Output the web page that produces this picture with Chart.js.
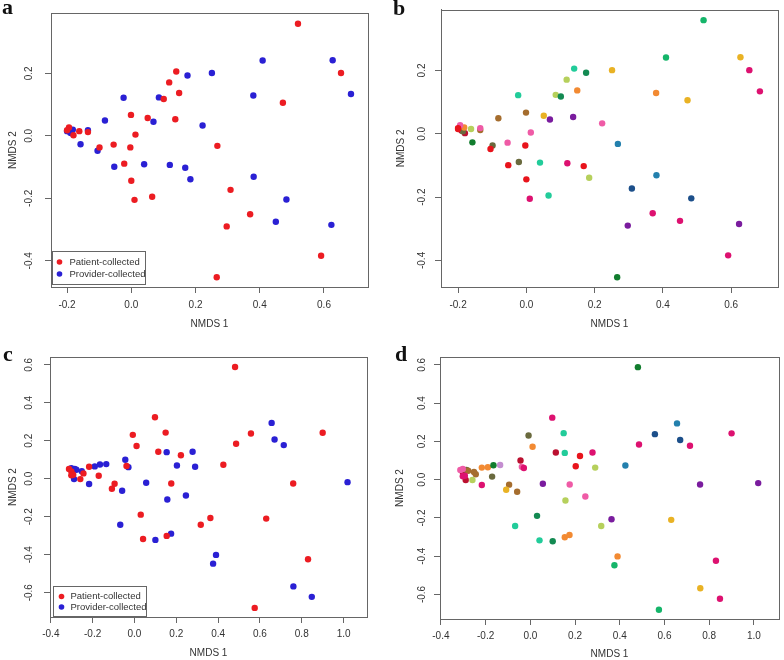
<!DOCTYPE html>
<html>
<head>
<meta charset="utf-8">
<script src="https://cdn.jsdelivr.net/npm/chart.js@4.4.1/dist/chart.umd.min.js"></script>
<style>
  body { margin: 0; background: #fff; }
  #wrap { position: relative; width: 784px; height: 660px; overflow: hidden; }
  canvas { position: absolute; }
  .tag { position: absolute; font: bold 22px "Liberation Serif", "Times New Roman", serif; color: #111; line-height: 1; }
</style>
</head>
<body>
<div id="wrap">
  <canvas id="chartA" width="392" height="330" style="left:0;top:0"></canvas>
  <canvas id="chartB" width="392" height="330" style="left:392px;top:0"></canvas>
  <canvas id="chartC" width="392" height="330" style="left:0;top:330px"></canvas>
  <canvas id="chartD" width="392" height="330" style="left:392px;top:330px"></canvas>
  <div class="tag" style="left:2px;top:-4px">a</div>
  <div class="tag" style="left:393px;top:-3px">b</div>
  <div class="tag" style="left:3px;top:343px">c</div>
  <div class="tag" style="left:395px;top:343px">d</div>
</div>
<script>
// ordination 1 (panels a, b)
const abPatientX = [0.519, 0.653, 0.472, 0.140, 0.118, 0.149, 0.101, -0.001, 0.051, 0.137, 0.013, 0.268, -0.055, -0.099, -0.003, -0.022, 0.000, 0.065, 0.010, 0.309, 0.370, 0.297, 0.591, 0.266, -0.194, -0.180, -0.162, -0.135, -0.200];
const abPatientY = [0.359, 0.201, 0.106, 0.206, 0.171, 0.137, 0.118, 0.067, 0.057, 0.053, 0.004, -0.032, -0.028, -0.037, -0.037, -0.089, -0.144, -0.195, -0.205, -0.173, -0.251, -0.290, -0.384, -0.453, 0.027, 0.002, 0.015, 0.012, 0.018];
const abPatientSubject = [7, 1, 11, 6, 10, 12, 8, 13, 11, 3, 2, 5, 2, 14, 0, 14, 0, 6, 1, 4, 1, 3, 1, 9, 2, 15, 10, 13, 0];

const abProviderX = [0.409, 0.627, 0.684, 0.251, 0.175, 0.380, 0.086, -0.024, -0.082, 0.069, 0.222, -0.135, -0.158, -0.105, -0.053, 0.040, 0.120, 0.168, 0.184, 0.381, 0.483, 0.450, 0.623, -0.200, -0.190, -0.182, -0.186];
const abProviderY = [0.241, 0.242, 0.134, 0.201, 0.193, 0.129, 0.123, 0.122, 0.049, 0.045, 0.033, 0.018, -0.027, -0.048, -0.099, -0.091, -0.093, -0.102, -0.139, -0.131, -0.204, -0.275, -0.285, 0.015, 0.010, 0.020, 0.008];
const abProviderSubject = [7, 11, 1, 11, 8, 12, 10, 6, 13, 3, 2, 2, 9, 0, 0, 6, 1, 0, 10, 5, 4, 1, 3, 0, 15, 12, 14];

// ordination 2 (panels c, d)
const cdPatientX = [0.481, 0.098, 0.149, -0.008, 0.010, 0.114, 0.222, 0.557, 0.486, 0.900, 0.425, -0.038, -0.217, -0.171, -0.244, -0.259, -0.095, -0.108, 0.176, 0.759, 0.030, 0.317, 0.363, 0.630, 0.041, 0.154, 0.830, 0.575, -0.313, -0.302, -0.302, -0.293];
const cdPatientY = [0.588, 0.324, 0.243, 0.231, 0.172, 0.142, 0.124, 0.238, 0.184, 0.242, 0.074, 0.067, 0.063, 0.016, 0.028, -0.002, -0.026, -0.053, -0.025, -0.025, -0.189, -0.242, -0.207, -0.210, -0.317, -0.301, -0.424, -0.680, 0.051, 0.039, 0.018, 0.021];
const cdPatientSubject = [9, 1, 6, 14, 12, 15, 0, 4, 1, 1, 5, 2, 12, 14, 13, 10, 13, 11, 2, 3, 8, 10, 3, 11, 6, 12, 1, 7, 2, 15, 1, 1];

const cdProviderX = [0.656, 0.670, 0.714, 1.019, 0.154, 0.278, 0.203, 0.290, -0.044, -0.029, 0.056, 0.157, 0.246, -0.059, -0.068, 0.100, 0.175, 0.390, 0.376, 0.760, 0.848, -0.135, -0.165, -0.190, -0.217, -0.252, -0.289, -0.302, -0.286, -0.278];
const cdProviderY = [0.294, 0.207, 0.177, -0.018, 0.140, 0.142, 0.070, 0.063, 0.100, 0.061, -0.021, -0.109, -0.088, -0.063, -0.242, -0.322, -0.289, -0.401, -0.447, -0.567, -0.622, 0.077, 0.075, 0.065, -0.028, 0.040, -0.002, 0.056, 0.051, 0.047];
const cdProviderSubject = [5, 4, 1, 3, 6, 1, 0, 10, 15, 1, 3, 10, 2, 13, 6, 8, 12, 12, 7, 11, 1, 16, 9, 12, 1, 13, 15, 2, 14, 13];

const seriesLabels = ["Patient-collected", "Provider-collected"];

const abXTicks = [-0.2, 0.0, 0.2, 0.4, 0.6];
const abYTicks = [-0.4, -0.2, 0.0, 0.2];
const abXRange = [-0.250, 0.737];
const abYRange = [-0.484, 0.392];

const cdXTicks = [-0.4, -0.2, 0.0, 0.2, 0.4, 0.6, 0.8, 1.0];
const cdYTicks = [-0.6, -0.4, -0.2, 0.0, 0.2, 0.4, 0.6];
const cdXRange = [-0.404, 1.112];
const cdYRange = [-0.728, 0.641];

const xTitle = "NMDS 1";
const yTitle = "NMDS 2";

// styles
const sourceColors = ["#ec1c22", "#2a20d4"];
const subjectColors = [
    "#e8141c", "#dd1170", "#ef5ba6", "#7a1c9e", "#1c4f8a", "#2380ad",
    "#22cc9a", "#15b56a", "#138a52", "#117d2e", "#b6d05c", "#e9b224",
    "#f28a32", "#a56d2e", "#6a6a3e", "#bb1030", "#c48ed0"
];
const fontFamily = '"Liberation Sans", Arial, sans-serif';
const lineColor = "#666";
const textColor = "#333";

Chart.defaults.font.family = fontFamily;
Chart.defaults.color = textColor;

function toPoints(xs, ys) {
    return xs.map((x, i) => ({ x: x, y: ys[i] }));
}

function sourceDatasets(px, py, vx, vy) {
    return [
        { label: seriesLabels[0], data: toPoints(px, py), backgroundColor: sourceColors[0] },
        { label: seriesLabels[1], data: toPoints(vx, vy), backgroundColor: sourceColors[1] }
    ];
}

function subjectDatasets(px, py, ps, vx, vy, vs) {
    const groups = {};
    const add = (x, y, s) => {
        if (!groups[s]) groups[s] = [];
        groups[s].push({ x: x, y: y });
    };
    px.forEach((x, i) => add(x, py[i], ps[i]));
    vx.forEach((x, i) => add(x, vy[i], vs[i]));
    return Object.keys(groups).map(s => ({
        label: "Subject " + s,
        data: groups[s],
        backgroundColor: subjectColors[s]
    }));
}

const frameBox = {
    id: "frameBox",
    afterDraw(chart) {
        const a = chart.chartArea;
        const ctx = chart.ctx;
        ctx.save();
        ctx.strokeStyle = lineColor;
        ctx.lineWidth = 1;
        ctx.strokeRect(Math.round(a.left) + 0.5, Math.round(a.top) + 0.5,
            Math.round(a.right - a.left), Math.round(a.bottom - a.top));
        ctx.restore();
    }
};

const boxLegend = {
    id: "boxLegend",
    afterDraw(chart, args, opts) {
        if (!opts.show) return;
        const ctx = chart.ctx;
        const area = chart.chartArea;
        const left = Math.round(area.left + opts.dx) + 0.5;
        const top = Math.round(area.bottom - opts.dy - opts.height) + 0.5;
        ctx.save();
        ctx.strokeStyle = lineColor;
        ctx.lineWidth = 1;
        ctx.strokeRect(left, top, opts.width, opts.height);
        ctx.font = opts.fontSize + "px " + fontFamily;
        ctx.textBaseline = "middle";
        chart.data.datasets.forEach((ds, i) => {
            const y = top + opts.firstRow + i * opts.rowGap;
            ctx.beginPath();
            ctx.arc(left + opts.dotX, y, 2.8, 0, Math.PI * 2);
            ctx.fillStyle = ds.backgroundColor;
            ctx.fill();
            ctx.fillStyle = textColor;
            ctx.fillText(ds.label, left + opts.textX, y);
        });
        ctx.restore();
    }
};

function buildPanel(canvasId, datasets, xRange, yRange, xTicks, yTicks, lay, legend) {
    const ctx = document.getElementById(canvasId).getContext("2d");
    return new Chart(ctx, {
        type: "scatter",
        data: { datasets: datasets },
        plugins: [frameBox, boxLegend],
        options: {
            responsive: false,
            animation: false,
            layout: { padding: lay.padding },
            elements: { point: { radius: 3.2, borderWidth: 0, hoverRadius: 3.2 } },
            plugins: {
                legend: { display: false },
                tooltip: { enabled: false },
                boxLegend: legend
            },
            scales: {
                x: {
                    type: "linear",
                    min: xRange[0],
                    max: xRange[1],
                    afterBuildTicks: s => { s.ticks = xTicks.map(v => ({ value: v })); },
                    afterFit: s => { s.height = lay.xHeight; },
                    grid: { drawOnChartArea: false, drawTicks: true, tickLength: 6, color: lineColor },
                    border: { display: true, color: lineColor },
                    ticks: {
                        padding: lay.xTickPad,
                        font: { size: 10 },
                        color: textColor,
                        callback: v => v.toFixed(1)
                    },
                    title: {
                        display: true,
                        text: xTitle,
                        font: { size: 10 },
                        color: textColor,
                        padding: { top: 0, bottom: lay.xTitlePad }
                    }
                },
                y: {
                    type: "linear",
                    min: yRange[0],
                    max: yRange[1],
                    afterBuildTicks: s => { s.ticks = yTicks.map(v => ({ value: v })); },
                    afterFit: s => { s.width = lay.yWidth; },
                    grid: { drawOnChartArea: false, drawTicks: true, tickLength: 6, color: lineColor },
                    border: { display: true, color: lineColor },
                    ticks: {
                        padding: lay.yTickPad,
                        minRotation: 90,
                        maxRotation: 90,
                        crossAlign: "center",
                        font: { size: 10 },
                        color: textColor,
                        callback: v => v.toFixed(1)
                    },
                    title: {
                        display: true,
                        text: yTitle,
                        font: { size: 10 },
                        color: textColor,
                        padding: { top: lay.yTitlePad, bottom: 0 }
                    }
                }
            }
        }
    });
}

buildPanel("chartA",
    sourceDatasets(abPatientX, abPatientY, abProviderX, abProviderY),
    abXRange, abYRange, abXTicks, abYTicks,
    { padding: { left: 0, right: 24, top: 4, bottom: 0 }, yWidth: 51, xHeight: 43, yTickPad: 7.4, yTitlePad: 7, xTickPad: 6, xTitlePad: 0 },
    { show: true, dx: 1, dy: 3, width: 93, height: 33, firstRow: 10.5, rowGap: 12, dotX: 7, textX: 17, fontSize: 9.5 });

buildPanel("chartB",
    subjectDatasets(abPatientX, abPatientY, abPatientSubject, abProviderX, abProviderY, abProviderSubject),
    abXRange, abYRange, abXTicks, abYTicks,
    { padding: { left: 0, right: 6, top: 4, bottom: 0 }, yWidth: 49, xHeight: 43, yTickPad: 3.7, yTitlePad: 3.3, xTickPad: 6, xTitlePad: 0 },
    { show: false });

buildPanel("chartC",
    sourceDatasets(cdPatientX, cdPatientY, cdProviderX, cdProviderY),
    cdXRange, cdYRange, cdXTicks, cdYTicks,
    { padding: { left: 0, right: 25, top: 27, bottom: 0 }, yWidth: 50, xHeight: 43, yTickPad: 6, yTitlePad: 7.3, xTickPad: 5, xTitlePad: 0.7 },
    { show: true, dx: 3, dy: 1.5, width: 93, height: 30, firstRow: 10, rowGap: 10.5, dotX: 8, textX: 17, fontSize: 9.5 });

buildPanel("chartD",
    subjectDatasets(cdPatientX, cdPatientY, cdPatientSubject, cdProviderX, cdProviderY, cdProviderSubject),
    cdXRange, cdYRange, cdXTicks, cdYTicks,
    { padding: { left: 0, right: 5, top: 27, bottom: 0 }, yWidth: 48, xHeight: 41, yTickPad: 3, yTitlePad: 2.3, xTickPad: 5, xTitlePad: 0 },
    { show: false });
</script>
</body>
</html>
